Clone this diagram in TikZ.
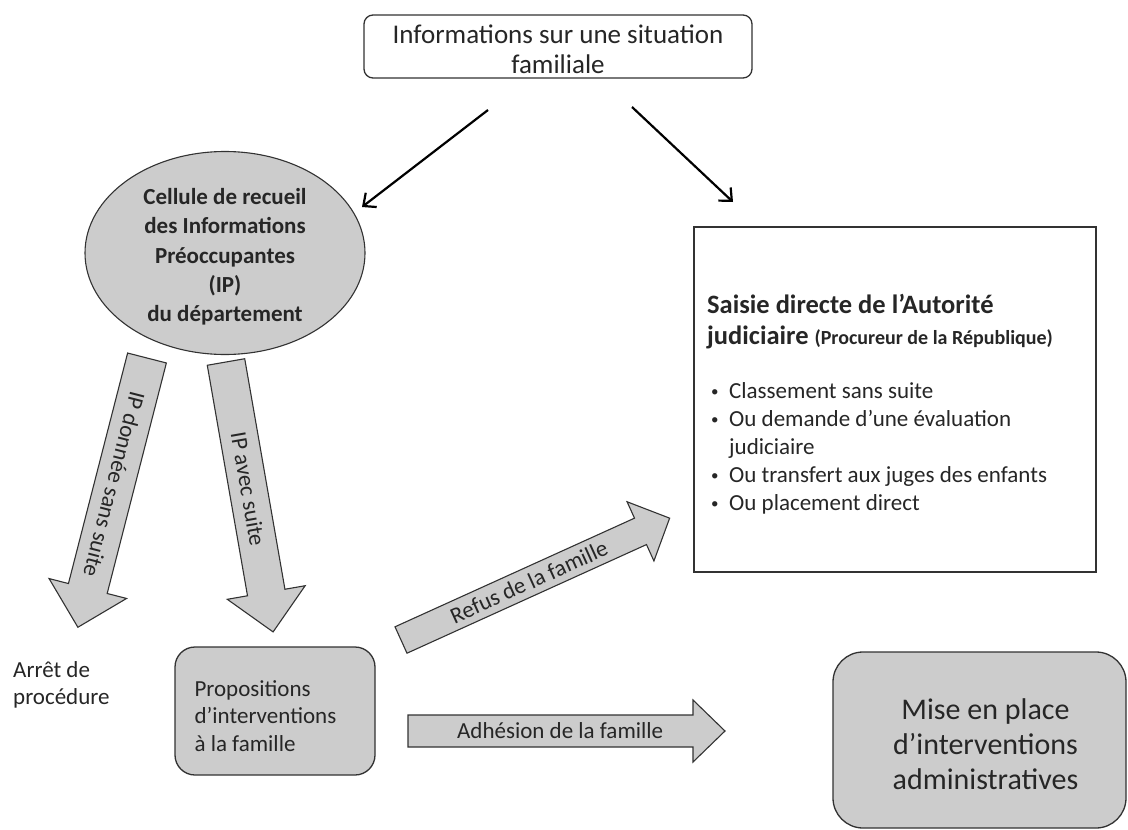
\documentclass[tikz,border=0pt]{standalone}
\usepackage{fontspec}
\setmainfont{Carlito}
\usetikzlibrary{shapes.geometric,arrows.meta,calc}
\definecolor{boxgray}{RGB}{204,204,204}
\definecolor{txt}{RGB}{38,38,38}
\definecolor{edge}{RGB}{50,50,50}
\newcommand\blockarr[8]{%
  \begin{scope}[shift={(#1)}, rotate=#2]
    \draw[blk] (0,-#4/2) -- ({#3-#6},-#4/2) -- ({#3-#6},-#5/2) -- (#3,0)
      -- ({#3-#6},#5/2) -- ({#3-#6},#4/2) -- (0,#4/2) -- cycle;
    \node[rotate=#2, arrtext] at ({#8*#3},0) {#7};
  \end{scope}}
\newcommand\bul{\makebox[18pt][l]{\fontsize{15}{15}\selectfont\raisebox{1.5pt}{•}}}
\begin{document}
\begin{tikzpicture}[x=1pt,y=-1pt,
  every node/.style={text=txt},
  topbox/.style={draw=edge, line width=1.3pt, rounded corners=9pt, fill=white,
    minimum width=388pt, minimum height=63pt, inner sep=0pt},
  toptext/.style={align=center, inner sep=0pt, font=\fontsize{27}{30}\selectfont},
  cellbox/.style={ellipse, draw=edge, line width=1.1pt, fill=boxgray, inner sep=0pt,
    minimum width=280pt, minimum height=203pt},
  celltext/.style={align=center, inner sep=0pt, font=\bfseries\fontsize{23}{29.3}\selectfont},
  squarebox/.style={draw=edge, line width=1.3pt, fill=white, inner sep=0pt},
  graybox/.style={draw=edge, line width=1.3pt, fill=boxgray, inner sep=0pt},
  blk/.style={draw=edge, line width=1.1pt, fill=boxgray},
  arrtext/.style={font=\fontsize{23}{27}\selectfont, inner sep=0pt},
  linearrow/.style={draw=black, line width=2.2pt, -{Straight Barb[length=10pt,width=18pt]}},
]
\useasboundingbox (0,0) rectangle (1128,830);

% top box
\node[topbox] (info) at (558,46.5) {};
\node[toptext] (infotext) at ($(info.center)+(0,3)$) {Informations sur une situation\\familiale};

% ellipse
\node[cellbox] (cell) at (225,253) {};
\node[celltext] (celltxt) at ($(cell.center)+(0,4)$) {Cellule de recueil\\des Informations\\Préoccupantes\\(IP)\\du département};

% right box
\node[squarebox, minimum width=402pt, minimum height=345pt] (saisie) at (895,399.5) {};
\node[anchor=north west, align=left, inner sep=0pt,
  font=\bfseries\fontsize{26.5}{31}\selectfont] (titre) at (707,294)
  {Saisie directe de l’Autorité\\
   judiciaire {\fontsize{20}{31}\selectfont (Procureur de la République)}};
\node[anchor=north west, align=left, inner sep=0pt, font=\fontsize{23}{28}\selectfont] (liste) at (711,382)
  {\bul Classement sans suite\\
   \bul Ou demande d’une évaluation\\
   \makebox[18pt][l]{}judiciaire\\
   \bul Ou transfert aux juges des enfants\\
   \bul Ou placement direct};

% thin arrows
\coordinate (l1s) at (488,110);
\coordinate (l1e) at (362,207);
\coordinate (r1s) at (632,107);
\coordinate (r1e) at (733,202);
\draw[linearrow] (l1s) -- (l1e);
\draw[linearrow] (r1s) -- (r1e);

% block arrows
\coordinate (a1) at (147,358);
\coordinate (a2) at (226,362);
\coordinate (a3) at (401,640);
\coordinate (a4) at (408,731);
\blockarr{a1}{-104.4}{278}{40}{80}{40}{IP donnée sans suite}{0.47}
\blockarr{a2}{-80.1}{274}{38}{79}{40}{IP avec suite}{0.47}
\blockarr{a3}{24.4}{295}{29}{65}{32}{Refus de la famille}{0.476}
\blockarr{a4}{0}{317}{32}{62}{32}{Adhésion de la famille}{0.48}

% bottom boxes
\node[anchor=north west, align=left, inner sep=0pt, font=\fontsize{23}{27.5}\selectfont] (arret) at (13,661) {Arrêt de\\procédure};
\node[graybox, rounded corners=20pt, minimum width=200pt, minimum height=128pt] (prop) at (275,711) {};
\node[anchor=west, align=left, inner sep=0pt, font=\fontsize{23}{27.5}\selectfont] (proptxt) at ($(prop.west)+(20,5)$)
  {Propositions\\d’interventions\\à la famille};
\node[graybox, rounded corners=30pt, minimum width=293pt, minimum height=176pt] (mise) at (979.5,740) {};
\node[align=center, inner sep=0pt, font=\fontsize{30}{35}\selectfont] (misetxt) at ($(mise.center)+(6,4)$)
  {Mise en place\\d’interventions\\administratives};
\end{tikzpicture}
\end{document}
